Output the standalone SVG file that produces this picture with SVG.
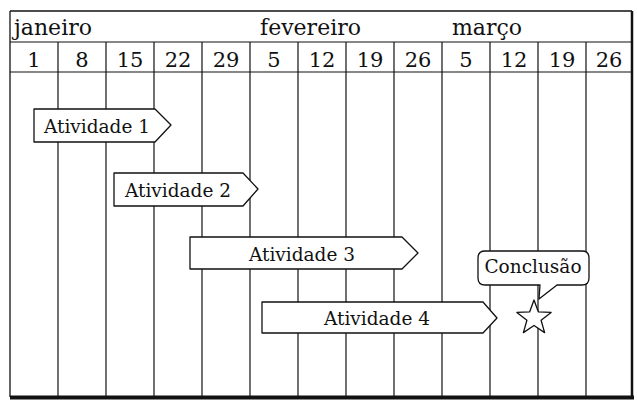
<svg xmlns="http://www.w3.org/2000/svg" width="637" height="402" viewBox="0 0 637 402">
<style>
  .grid { stroke: #111; stroke-width: 1.2; fill: none; }
  .frame { stroke: #111; fill: none; }
  .box { fill: #fff; stroke: #111; stroke-width: 1.3; stroke-linejoin: round; }
  .month { font-family: "DejaVu Serif", "Liberation Serif", serif; font-size: 22px; fill: #111; }
  .day { font-family: "DejaVu Serif", "Liberation Serif", serif; font-size: 21px; fill: #111; text-anchor: middle; }
  .lbl { font-family: "DejaVu Serif", "Liberation Serif", serif; font-size: 18.5px; fill: #111; text-anchor: middle; }
</style>
<rect width="637" height="402" fill="#fff"/>
<g id="grid">
  <line class="frame" x1="10" y1="11" x2="632" y2="11" stroke-width="1.3"/>
  <line class="frame" x1="10" y1="11" x2="10" y2="397" stroke-width="1.3"/>
  <line class="frame" x1="632" y1="11" x2="632" y2="397" stroke-width="2.5"/>
  <line class="frame" x1="10" y1="397.5" x2="634" y2="397.5" stroke-width="4"/>
  <line class="grid" x1="10" y1="42" x2="632" y2="42"/>
  <line class="grid" x1="10" y1="72" x2="632" y2="72"/>
  <line class="grid" x1="58" y1="42" x2="58" y2="396"/>
  <line class="grid" x1="106" y1="42" x2="106" y2="396"/>
  <line class="grid" x1="154" y1="42" x2="154" y2="396"/>
  <line class="grid" x1="202" y1="42" x2="202" y2="396"/>
  <line class="grid" x1="250" y1="42" x2="250" y2="396"/>
  <line class="grid" x1="298" y1="42" x2="298" y2="396"/>
  <line class="grid" x1="346" y1="42" x2="346" y2="396"/>
  <line class="grid" x1="394" y1="42" x2="394" y2="396"/>
  <line class="grid" x1="442" y1="42" x2="442" y2="396"/>
  <line class="grid" x1="490" y1="42" x2="490" y2="396"/>
  <line class="grid" x1="538" y1="42" x2="538" y2="396"/>
  <line class="grid" x1="586" y1="42" x2="586" y2="396"/>
</g>
<g id="months">
  <text class="month" x="14" y="35">janeiro</text>
  <text class="month" x="260" y="35">fevereiro</text>
  <text class="month" x="452" y="35">março</text>
</g>
<g id="days">
  <text class="day" x="34" y="67">1</text>
  <text class="day" x="82" y="67">8</text>
  <text class="day" x="130" y="67">15</text>
  <text class="day" x="178" y="67">22</text>
  <text class="day" x="226" y="67">29</text>
  <text class="day" x="274" y="67">5</text>
  <text class="day" x="322" y="67">12</text>
  <text class="day" x="370" y="67">19</text>
  <text class="day" x="418" y="67">26</text>
  <text class="day" x="466" y="67">5</text>
  <text class="day" x="514" y="67">12</text>
  <text class="day" x="562" y="67">19</text>
  <text class="day" x="609" y="67">26</text>
</g>
<g id="atividade1">
  <path class="box" d="M34,109 H155 L171,125 L155,142 H34 Z"/>
  <text class="lbl" x="97" y="133">Atividade 1</text>
</g>
<g id="atividade2">
  <path class="box" d="M114,173 H243 L258,189 L243,206 H114 Z"/>
  <text class="lbl" x="178" y="197">Atividade 2</text>
</g>
<g id="atividade3">
  <path class="box" d="M190,237 H402 L418,253 L402,269 H190 Z"/>
  <text class="lbl" x="302" y="261">Atividade 3</text>
</g>
<g id="atividade4">
  <path class="box" d="M262,302 H483 L497,318 L483,333 H262 Z"/>
  <text class="lbl" x="377" y="325">Atividade 4</text>
</g>
<g id="conclusao">
  <path class="box" d="M485,251 H582 Q589,251 589,258 V278 Q589,285 582,285 H557 L539,299 L540,285 H485 Q478,285 478,278 V258 Q478,251 485,251 Z"/>
  <text class="lbl" x="533" y="273">Conclusão</text>
</g>
<g id="estrela">
  <polygon class="box" points="534,300 538.4,311.9 551.1,312.4 541.1,320.3 544.6,332.6 534,325.5 523.4,332.6 526.9,320.3 516.9,312.4 529.6,311.9"/>
</g>
</svg>
